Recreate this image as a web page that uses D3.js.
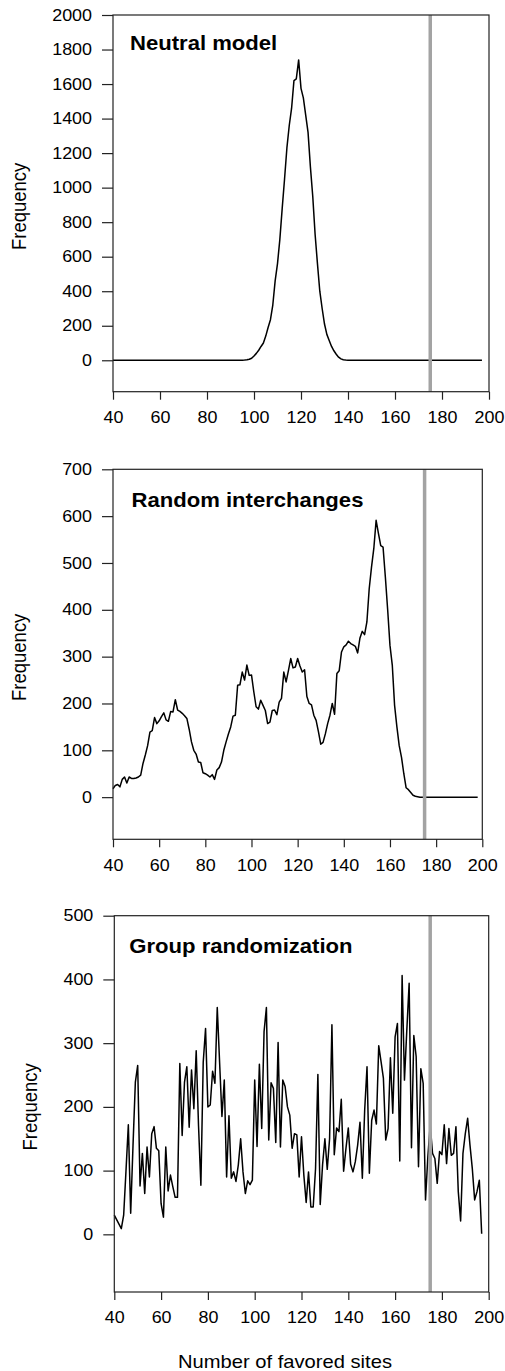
<!DOCTYPE html>
<html>
<head>
<meta charset="utf-8">
<script src="https://cdn.jsdelivr.net/npm/d3@7"></script>
<style>
  html, body { margin: 0; padding: 0; background: #fff; }
  svg { display: block; }
  text { font-family: "Liberation Sans", Arial, Helvetica, sans-serif; fill: #000; }
</style>
</head>
<body>
<svg id="chart" width="505" height="1371"></svg>
<script>
// ---------- data ----------
const xStart = 40;                 // first "number of favored sites" value of every series
const xTicks = [40, 60, 80, 100, 120, 140, 160, 180, 200];
const observedValue = 175;         // grey reference line

const panelTitles = ["Neutral model", "Random interchanges", "Group randomization"];
const yTicksNeutral = [0, 200, 400, 600, 800, 1000, 1200, 1400, 1600, 1800, 2000];
const yTicksRandom = [0, 100, 200, 300, 400, 500, 600, 700];
const yTicksGroup = [0, 100, 200, 300, 400, 500];
const yLabel = "Frequency";
const xLabel = "Number of favored sites";

// Neutral model, x = 40..197
const neutralValues = [
  0,0,0,0,0,0,0,0,0,0,                       // 40-49
  0,0,0,0,0,0,0,0,0,0,                       // 50-59
  0,0,0,0,0,0,0,0,0,0,                       // 60-69
  0,0,0,0,0,0,0,0,0,0,                       // 70-79
  0,0,0,0,0,0,0,0,0,0,                       // 80-89
  0,0,0,0,0,0,1,3,6,12,                      // 90-99
  25,40,58,80,100,140,190,235,320,460,       // 100-109
  560,700,880,1050,1230,1360,1460,1620,1630,1740, // 110-119
  1575,1520,1420,1320,1120,950,730,560,400,300,   // 120-129
  210,150,115,80,55,35,18,8,3,1,             // 130-139
  0,0,0,0,0,0,0,0,0,0,                       // 140-149
  0,0,0,0,0,0,0,0,0,0,                       // 150-159
  0,0,0,0,0,0,0,0,0,0,                       // 160-169
  0,0,0,0,0,0,0,0,0,0,                       // 170-179
  0,0,0,0,0,0,0,0,0,0,                       // 180-189
  0,0,0,0,0,0,0,0                            // 190-197
];

// Random interchanges, x = 40..198
const randomValues = [
  18,25,27,22,38,43,30,43,40,40,             // 40-49
  41,43,47,72,90,110,139,142,170,157,        // 50-59
  163,172,180,165,162,183,182,208,186,183,   // 60-69
  179,174,168,145,118,100,92,75,74,52,       // 70-79
  50,47,43,48,38,58,63,75,100,118,           // 80-89
  135,150,173,175,239,240,267,250,282,260,   // 90-99
  261,225,193,188,207,196,185,157,160,185,   // 100-109
  186,176,203,211,267,246,270,296,276,278,   // 110-119
  296,280,267,272,215,200,197,175,164,140,   // 120-129
  113,117,135,157,175,200,177,264,270,310,   // 130-139
  321,325,333,328,325,322,308,340,354,347,   // 140-149
  374,445,491,531,591,563,537,534,470,400,   // 150-159
  324,282,196,150,110,85,50,20,16,10,        // 160-169
  4,2,1,0,0,0,0,0,0,0,                       // 170-179
  0,0,0,0,0,0,0,0,0,0,                       // 180-189
  0,0,0,0,0,0,0,0,0                          // 190-198
];

// Group randomization, x = 40..197
const groupValues = [
  30,23,16,9,30,100,172,33,140,239,          // 40-49
  265,76,127,64,137,90,158,169,135,131,      // 50-59
  48,27,137,68,93,75,58,58,268,155,          // 60-69
  239,263,168,258,197,288,170,77,270,323,    // 70-79
  200,203,256,237,356,270,185,242,90,186,    // 80-89
  88,98,83,109,150,98,64,84,78,85,           // 90-99
  242,138,267,166,318,356,148,238,229,144,   // 100-109
  301,137,242,232,200,187,135,158,156,90,    // 110-119
  153,93,50,98,43,43,103,251,47,109,         // 120-129
  150,102,150,329,125,167,161,212,99,135,    // 130-139
  167,110,98,114,140,176,88,195,263,96,      // 140-149
  179,195,173,296,271,245,148,166,277,190,   // 150-159
  310,331,115,406,242,320,394,136,312,279,   // 160-169
  106,260,237,54,122,172,127,119,80,130,     // 170-179
  125,172,111,166,124,127,169,67,21,127,     // 180-189
  158,182,140,103,54,67,85,1                 // 190-197
];

// ---------- drawing ----------
const svg = d3.select("#chart");
const SX = 1.12; // horizontal stretch of the lettering in the reference

const panels = [
  { title: panelTitles[0], values: neutralValues, yTicks: yTicksNeutral, yMin: -182, yMax: 2000,
    left: 113, right: 489, top: 15, bottom: 391.7, titleX: 130, titleY: 50, labelX: 26, xAxisLabel: false },
  { title: panelTitles[1], values: randomValues, yTicks: yTicksRandom, yMin: -90, yMax: 700,
    left: 113, right: 482.3, top: 469.3, bottom: 839.3, titleX: 131.5, titleY: 506.5, labelX: 26, xAxisLabel: false },
  { title: panelTitles[2], values: groupValues, yTicks: yTicksGroup, yMin: -90.5, yMax: 500,
    left: 114.3, right: 488.7, top: 915.7, bottom: 1292, titleX: 129.3, titleY: 952.5, labelX: 37, xAxisLabel: true }
];

panels.forEach(p => {
  const x = d3.scaleLinear().domain([40, 200]).range([p.left, p.right]);
  const y = d3.scaleLinear().domain([p.yMin, p.yMax]).range([p.bottom, p.top]);
  const g = svg.append("g");

  // data line
  const pts = p.values.map((v, i) => [xStart + i, v]);
  g.append("path")
    .datum(pts)
    .attr("fill", "none")
    .attr("stroke", "#000")
    .attr("stroke-width", 1.5)
    .attr("stroke-linejoin", "round")
    .attr("d", d3.line().x(d => x(d[0])).y(d => y(d[1])));

  // grey observed line
  g.append("line")
    .attr("x1", x(observedValue)).attr("x2", x(observedValue))
    .attr("y1", p.top).attr("y2", p.bottom)
    .attr("stroke", "#a3a3a3")
    .attr("stroke-width", 3.5);

  // frame
  g.append("rect")
    .attr("x", p.left).attr("y", p.top)
    .attr("width", p.right - p.left).attr("height", p.bottom - p.top)
    .attr("fill", "none").attr("stroke", "#222").attr("stroke-width", 1.2);

  // y axis
  const ya = g.append("g")
    .attr("transform", `translate(${p.left},0)`)
    .call(d3.axisLeft(y).tickValues(p.yTicks).tickSize(11).tickPadding(10).tickFormat(d3.format("d")));
  ya.select(".domain").remove();
  ya.selectAll("line").attr("stroke", "#222").attr("stroke-width", 1.2);
  ya.selectAll("text").each(function() {
    const t = d3.select(this);
    const tx = +t.attr("x");
    t.attr("x", 0).attr("transform", `translate(${tx},0) scale(${SX},1)`)
     .style("font-size", "16px").attr("fill", "#000");
  });

  // x axis
  const xa = g.append("g")
    .attr("transform", `translate(0,${p.bottom})`)
    .call(d3.axisBottom(x).tickValues(xTicks).tickSize(8).tickPadding(12).tickFormat(d3.format("d")));
  xa.select(".domain").remove();
  xa.selectAll("line").attr("stroke", "#222").attr("stroke-width", 1.2);
  xa.selectAll("text").each(function() {
    const t = d3.select(this);
    const ty = +t.attr("y");
    t.attr("y", 0).attr("transform", `translate(0,${ty}) scale(${SX},1)`)
     .style("font-size", "16px").attr("fill", "#000");
  });

  // panel title
  g.append("text")
    .attr("transform", `translate(${p.titleX},${p.titleY}) scale(1.133,1)`)
    .style("font-size", "19.5px").style("font-weight", "bold")
    .text(p.title);

  // y label
  g.append("text")
    .attr("transform", `translate(${p.labelX},${(p.top + p.bottom) / 2 + 3}) rotate(-90) scale(1,${SX})`)
    .attr("text-anchor", "middle")
    .style("font-size", "18.5px")
    .text(yLabel);

  if (p.xAxisLabel) {
    g.append("text")
      .attr("transform", `translate(285,1368) scale(${SX},1)`)
      .attr("text-anchor", "middle")
      .style("font-size", "18px")
      .text(xLabel);
  }
});
</script>
</body>
</html>
